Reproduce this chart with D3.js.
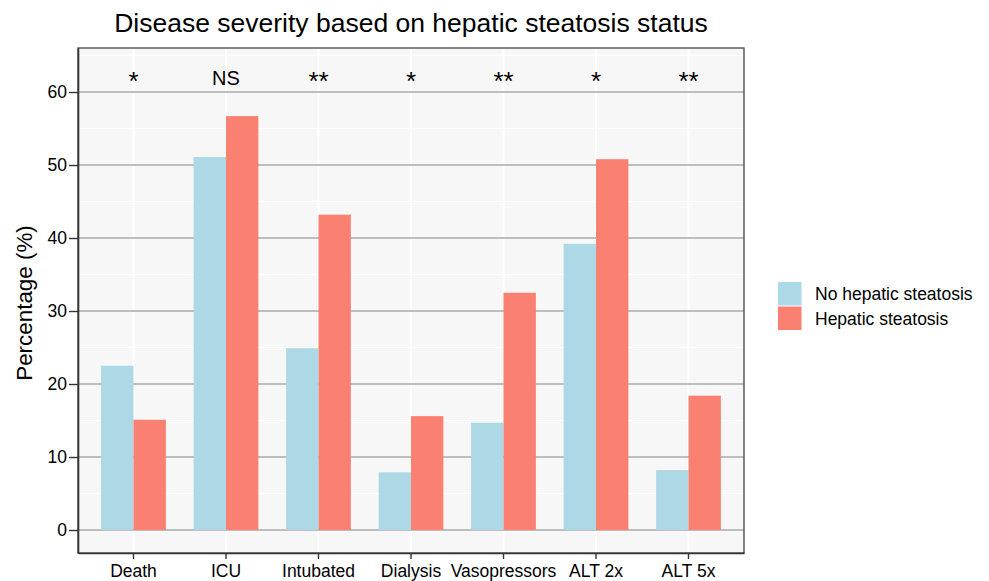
<!DOCTYPE html>
<html>
<head>
<meta charset="utf-8">
<script src="https://cdnjs.cloudflare.com/ajax/libs/d3/7.8.5/d3.min.js"></script>
<style>
  body { margin: 0; background: #fff; }
  text { font-family: "Liberation Sans", Arial, sans-serif; fill: #000; }
</style>
</head>
<body>
<svg id="chart" width="989" height="581"></svg>
<script>
// data
const categories = ['Death', 'ICU', 'Intubated', 'Dialysis', 'Vasopressors', 'ALT 2x', 'ALT 5x'];
const noSteatosis = [22.5, 51.1, 24.9, 7.9, 14.7, 39.2, 8.2];
const steatosis = [15.1, 56.7, 43.2, 15.6, 32.5, 50.8, 18.4];
const signif = ['*', 'NS', '**', '*', '**', '*', '**'];
const groups = ['No hepatic steatosis', 'Hepatic steatosis'];
const colors = ['#ADD8E6', '#FA8072'];
const yTicks = [0, 10, 20, 30, 40, 50, 60];

const svg = d3.select('#chart');
const marginLeft = 78;
const marginTop = 48;
const panelW = 666;
const panelH = 505;

const g = svg.append('g').attr('transform', `translate(${marginLeft},${marginTop})`);

// scales
const scaleX = d3.scaleBand()
  .domain(categories)
  .range([0, panelW]);
// ggplot style expansion: 0.6 unit each side
const unit = panelW / (categories.length - 1 + 1.2);
const cx = d => 0.6 * unit + categories.indexOf(d) * unit;
const barW = unit * 0.35;

const scaleY = d3.scaleLinear().domain([-3.15, 66.03]).range([panelH, 0]);

// panel background
g.append('rect')
  .attr('width', panelW)
  .attr('height', panelH)
  .attr('fill', '#F7F7F7');

// minor grid
const minor = [5, 15, 25, 35, 45, 55, 65];
g.selectAll('.minor')
  .data(minor)
  .enter()
  .append('line')
  .attr('x1', 0).attr('x2', panelW)
  .attr('y1', d => scaleY(d)).attr('y2', d => scaleY(d))
  .attr('stroke', '#fff')
  .attr('stroke-width', 1);

// vertical grid
g.selectAll('.vgrid')
  .data(categories)
  .enter()
  .append('line')
  .attr('x1', d => cx(d)).attr('x2', d => cx(d))
  .attr('y1', 0).attr('y2', panelH)
  .attr('stroke', '#fff')
  .attr('stroke-width', 2);

// major grid
g.selectAll('.major')
  .data(yTicks)
  .enter()
  .append('line')
  .attr('x1', 0).attr('x2', panelW)
  .attr('y1', d => scaleY(d)).attr('y2', d => scaleY(d))
  .attr('stroke', '#BEBEBE')
  .attr('stroke-width', 1.8);

// bars
const series = [noSteatosis, steatosis];
series.forEach((vals, si) => {
  g.selectAll(`.bar-${si}`)
    .data(categories)
    .enter()
    .append('rect')
    .attr('class', `bar-${si}`)
    .attr('x', d => cx(d) - barW + si * barW)
    .attr('width', barW)
    .attr('y', (d, i) => scaleY(vals[i]))
    .attr('height', (d, i) => scaleY(0) - scaleY(vals[i]))
    .attr('fill', colors[si]);
});

// significance labels (asterisks drawn larger, like the reference glyphs)
g.selectAll('.sig')
  .data(categories)
  .enter()
  .append('text')
  .attr('x', d => cx(d))
  .attr('y', (d, i) => signif[i] === 'NS' ? scaleY(60.9) : scaleY(60.3))
  .attr('text-anchor', 'middle')
  .style('font-size', (d, i) => signif[i] === 'NS' ? '20px' : '26px')
  .text((d, i) => signif[i]);

// panel border
g.append('rect')
  .attr('width', panelW)
  .attr('height', panelH)
  .attr('fill', 'none')
  .attr('stroke', '#333')
  .attr('stroke-width', 1.2);

// axes
const yAxis = g.append('g')
  .call(d3.axisLeft(scaleY).tickValues(yTicks).tickSize(9).tickSizeOuter(0).tickPadding(2));
yAxis.select('.domain').attr('stroke', '#333').attr('stroke-width', 1.6);
yAxis.selectAll('.tick line').attr('stroke', '#333').attr('stroke-width', 1.4);
yAxis.selectAll('.tick text').style('font-size', '17.5px').attr('fill', '#000');

const xAxis = g.append('g')
  .attr('transform', `translate(0,${panelH})`)
  .call(d3.axisBottom(scaleX).tickSize(6).tickSizeOuter(0).tickPadding(5.5));
xAxis.selectAll('.tick').attr('transform', d => `translate(${cx(d)},0)`);
xAxis.select('.domain').attr('stroke', '#333').attr('stroke-width', 1.6);
xAxis.selectAll('.tick line').attr('stroke', '#333').attr('stroke-width', 1.4);
xAxis.selectAll('.tick text').style('font-size', '17.5px').attr('fill', '#000');

// title
svg.append('text')
  .attr('x', marginLeft + panelW / 2)
  .attr('y', 32)
  .attr('text-anchor', 'middle')
  .style('font-size', '26.5px')
  .text('Disease severity based on hepatic steatosis status');

// y label
svg.append('text')
  .attr('transform', `translate(32,303) rotate(-90)`)
  .attr('text-anchor', 'middle')
  .style('font-size', '22.4px')
  .text('Percentage (%)');

// legend
const legend = svg.append('g').attr('transform', 'translate(778,282)');
groups.forEach((name, i) => {
  legend.append('rect')
    .attr('x', 0)
    .attr('y', i * 24.5)
    .attr('width', 23.5)
    .attr('height', 23.5)
    .attr('fill', colors[i]);
  legend.append('text')
    .attr('x', 37)
    .attr('y', i * 24.5 + 12)
    .attr('dy', '0.35em')
    .style('font-size', '17.5px')
    .text(name);
});
</script>
</body>
</html>
